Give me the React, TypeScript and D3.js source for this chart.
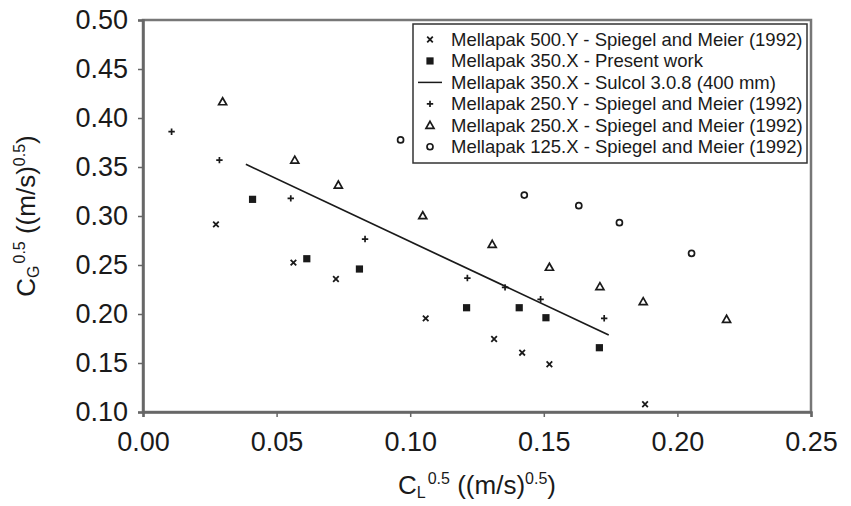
import React, { useEffect, useRef } from 'react'
import * as d3 from 'd3'

// data: [C_L^0.5, C_G^0.5]
const m500Y = [[0.0273, 0.2915], [0.0563, 0.2524], [0.0722, 0.2357], [0.1058, 0.1956], [0.1314, 0.1745], [0.1419, 0.1605], [0.1521, 0.1487], [0.1879, 0.1079]]
const m350X = [[0.0410, 0.317], [0.0613, 0.2564], [0.0810, 0.2459], [0.1211, 0.2064], [0.1408, 0.2064], [0.1508, 0.1962], [0.1708, 0.1656]]
const sulcol = [[0.0385, 0.3527], [0.1743, 0.1786]]
const m250Y = [[0.0107, 0.386], [0.0286, 0.357], [0.0553, 0.318], [0.0831, 0.2765], [0.1214, 0.2367], [0.1355, 0.2272], [0.1488, 0.215], [0.1726, 0.1956]]
const m250X = [[0.0298, 0.4166], [0.0568, 0.357], [0.0731, 0.3316], [0.1047, 0.3003], [0.1307, 0.2711], [0.1521, 0.2477], [0.171, 0.2279], [0.1872, 0.2126], [0.2184, 0.1946]]
const m125X = [[0.0964, 0.3776], [0.1427, 0.3214], [0.1631, 0.3105], [0.1783, 0.2932], [0.2053, 0.2619]]

const xTicks = [0, 0.05, 0.1, 0.15, 0.2, 0.25]
const yTicks = [0.1, 0.15, 0.2, 0.25, 0.3, 0.35, 0.4, 0.45, 0.5]

const legendLabels = [
  'Mellapak 500.Y - Spiegel and Meier (1992)',
  'Mellapak 350.X - Present work',
  'Mellapak 350.X - Sulcol 3.0.8 (400 mm)',
  'Mellapak 250.Y - Spiegel and Meier (1992)',
  'Mellapak 250.X - Spiegel and Meier (1992)',
  'Mellapak 125.X - Spiegel and Meier (1992)',
]
const legendKinds = ['cross', 'square', 'line', 'plus', 'triangle', 'circle']

const FONT = '"Liberation Sans", Arial, sans-serif'
const INK = '#1a1a1a'

function drawMarker(g, kind, x, y) {
  if (kind === 'cross') {
    g.append('path').attr('d', `M${x - 2.8},${y - 2.8}L${x + 2.8},${y + 2.8}M${x - 2.8},${y + 2.8}L${x + 2.8},${y - 2.8}`)
      .attr('stroke', INK).attr('stroke-width', 1.8)
  } else if (kind === 'square') {
    g.append('rect').attr('x', x - 3.6).attr('y', y - 3.6).attr('width', 7.2).attr('height', 7.2).attr('fill', INK)
  } else if (kind === 'plus') {
    g.append('path').attr('d', `M${x - 3.2},${y}L${x + 3.2},${y}M${x},${y - 3.2}L${x},${y + 3.2}`)
      .attr('stroke', INK).attr('stroke-width', 1.7)
  } else if (kind === 'triangle') {
    g.append('path').attr('d', `M${x},${y - 4}L${x + 4},${y + 3}L${x - 4},${y + 3}Z`)
      .attr('fill', 'none').attr('stroke', INK).attr('stroke-width', 1.7)
  } else if (kind === 'circle') {
    g.append('circle').attr('cx', x).attr('cy', y).attr('r', 3)
      .attr('fill', 'none').attr('stroke', INK).attr('stroke-width', 1.7)
  } else if (kind === 'line') {
    g.append('line').attr('x1', x - 12).attr('x2', x + 12).attr('y1', y).attr('y2', y)
      .attr('stroke', INK).attr('stroke-width', 1.5)
  }
}

// C_sub^0.5 ((m/s)^0.5) with real tspans
function titleText(t, sub) {
  t.append('tspan').text('C')
  t.append('tspan').attr('dy', 4).style('font-size', '16px').text(sub)
  t.append('tspan').attr('dy', -14).attr('dx', 2).style('font-size', '16px').text('0.5')
  t.append('tspan').attr('dy', 10).text(' ((m/s)')
  t.append('tspan').attr('dy', -10).style('font-size', '16px').text('0.5')
  t.append('tspan').attr('dy', 10).text(')')
}

function App() {
  const svgRef = useRef(null)

  useEffect(() => {
    const w = 851
    const h = 506
    const svg = d3.select(svgRef.current)
    svg.selectAll('*').remove()
    svg.attr('width', w).attr('height', h)

    const x = d3.scaleLinear().domain([0, 0.25]).range([143, 811])
    const y = d3.scaleLinear().domain([0.1, 0.5]).range([412, 20])

    // plot frame (top + right)
    svg.append('rect')
      .attr('x', x(0)).attr('y', y(0.5))
      .attr('width', x(0.25) - x(0)).attr('height', y(0.1) - y(0.5))
      .attr('fill', 'none').attr('stroke', '#777').attr('stroke-width', 2.5)

    // axes
    const yAxis = d3.axisLeft(y).tickValues(yTicks).tickSize(5).tickPadding(10).tickFormat(d3.format('.2f'))
    const xAxis = d3.axisBottom(x).tickValues(xTicks).tickSize(5).tickPadding(15).tickFormat(d3.format('.2f'))

    const gy = svg.append('g').attr('transform', `translate(${x(0)},0)`).call(yAxis)
    const gx = svg.append('g').attr('transform', `translate(0,${y(0.1)})`).call(xAxis)
    ;[gx, gy].forEach(g => {
      g.select('.domain').attr('stroke', '#666').attr('stroke-width', 2.5)
      g.selectAll('.tick line').attr('stroke', '#666').attr('stroke-width', 1.5)
      g.selectAll('.tick text').attr('fill', INK).style('font-family', FONT).style('font-size', '27px')
    })

    // series
    const pts = svg.append('g')
    const series = [[m500Y, 'cross'], [m350X, 'square'], [m250Y, 'plus'], [m250X, 'triangle'], [m125X, 'circle']]
    series.forEach(([data, kind]) => {
      data.forEach(d => drawMarker(pts, kind, x(d[0]), y(d[1])))
    })

    const line = d3.line().x(d => x(d[0])).y(d => y(d[1]))
    svg.append('path').datum(sulcol).attr('d', line)
      .attr('fill', 'none').attr('stroke', INK).attr('stroke-width', 1.7)

    // legend
    const lg = svg.append('g')
    lg.append('rect').attr('x', 413).attr('y', 24).attr('width', 394).attr('height', 139)
      .attr('fill', 'white').attr('stroke', '#333').attr('stroke-width', 1.5)
    legendLabels.forEach((label, i) => {
      const cy = 39.5 + i * 21.45
      drawMarker(lg, legendKinds[i], 430, cy)
      lg.append('text').attr('x', 451).attr('y', cy).attr('dy', '0.35em')
        .attr('fill', INK).style('font-family', FONT).style('font-size', '18.5px')
        .text(label)
    })

    // axis titles
    const xt = svg.append('text').attr('x', (x(0) + x(0.25)) / 2).attr('y', 494)
      .attr('text-anchor', 'middle').attr('fill', INK).style('font-family', FONT).style('font-size', '26px')
    titleText(xt, 'L')

    const yt = svg.append('text').attr('transform', `translate(35,${(y(0.1) + y(0.5)) / 2}) rotate(-90)`)
      .attr('text-anchor', 'middle').attr('fill', INK).style('font-family', FONT).style('font-size', '26px')
    titleText(yt, 'G')
  }, [])

  return (
    <svg ref={svgRef} style={{ position: 'absolute', left: 0, top: 0, background: 'white' }}></svg>
  )
}

export default App
